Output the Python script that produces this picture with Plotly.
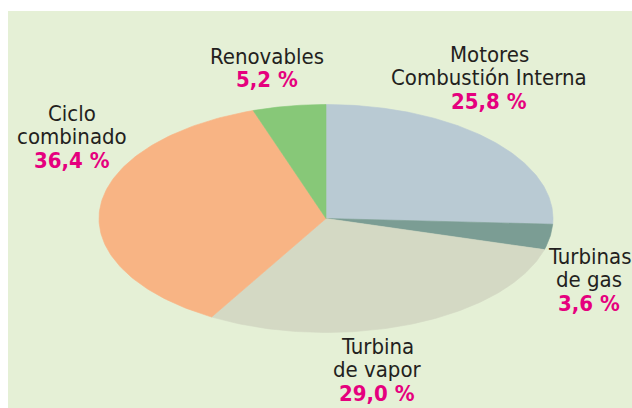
import numpy as np
import plotly.graph_objects as go

# Power generation mix by technology (clockwise from 12 o'clock)
categories = ["Motores Combustión Interna", "Turbinas de gas", "Turbina de vapor",
              "Ciclo combinado", "Renovables"]
shares = [25.8, 3.6, 29.0, 36.4, 5.2]
label_lines = [["Motores", "Combustión Interna"], ["Turbinas", "de gas"],
               ["Turbina", "de vapor"], ["Ciclo", "combinado"], ["Renovables"]]
value_text = ["25,8 %", "3,6 %", "29,0 %", "36,4 %", "5,2 %"]

colors = ["#B9CAD3", "#7B9D94", "#D4D9C4", "#F8B484", "#87C878"]

# Geometry of the flattened pie (pixel space)
W, H = 632, 408
cx, cy, rx, ry = 326, 218.5, 227, 114

# Label anchor: centre x and baseline of the first line
label_pos = [(489, 63), (589, 265), (377, 355), (72, 122), (267, 65)]
line_gap = 23.5

FONT = "Liberation Sans Narrow, DejaVu Sans Condensed, Arial Narrow, sans-serif"
FS = 22

fig = go.Figure()

cum = np.concatenate([[0], np.cumsum(shares)]) / sum(shares)
for i, name in enumerate(categories):
    t = np.linspace(cum[i], cum[i + 1], 120) * 2 * np.pi
    xs = np.concatenate([[cx], cx + rx * np.sin(t), [cx]])
    ys = np.concatenate([[cy], cy - ry * np.cos(t), [cy]])
    fig.add_trace(go.Scatter(
        x=xs, y=ys, mode="lines", fill="toself", fillcolor=colors[i],
        line=dict(color=colors[i], width=0.6), name=name,
        hoverinfo="text", text=f"{name}: {value_text[i]}", showlegend=False))

annotations = []
for (x0, y0), lines, val in zip(label_pos, label_lines, value_text):
    rows = [(ln, "#231F20", False) for ln in lines] + [(val, "#E5007E", True)]
    for k, (txt, col, bold) in enumerate(rows):
        base = y0 + k * line_gap
        annotations.append(dict(
            x=x0, y=base + FS * 0.27, xref="x", yref="y",
            text=f"<b>{txt}</b>" if bold else txt, showarrow=False,
            xanchor="center", yanchor="bottom",
            font=dict(family=FONT, size=FS, color=col)))

fig.update_layout(
    width=W, height=H, margin=dict(l=0, r=0, t=0, b=0),
    paper_bgcolor="white", plot_bgcolor="rgba(0,0,0,0)",
    xaxis=dict(range=[0, W], visible=False, fixedrange=True),
    yaxis=dict(range=[H, 0], visible=False, fixedrange=True),
    shapes=[dict(type="rect", xref="x", yref="y", x0=8, y0=11, x1=W, y1=H,
                 fillcolor="#E5F0D6", line=dict(width=0), layer="below")],
    annotations=annotations,
)

fig.write_html("out.html")
